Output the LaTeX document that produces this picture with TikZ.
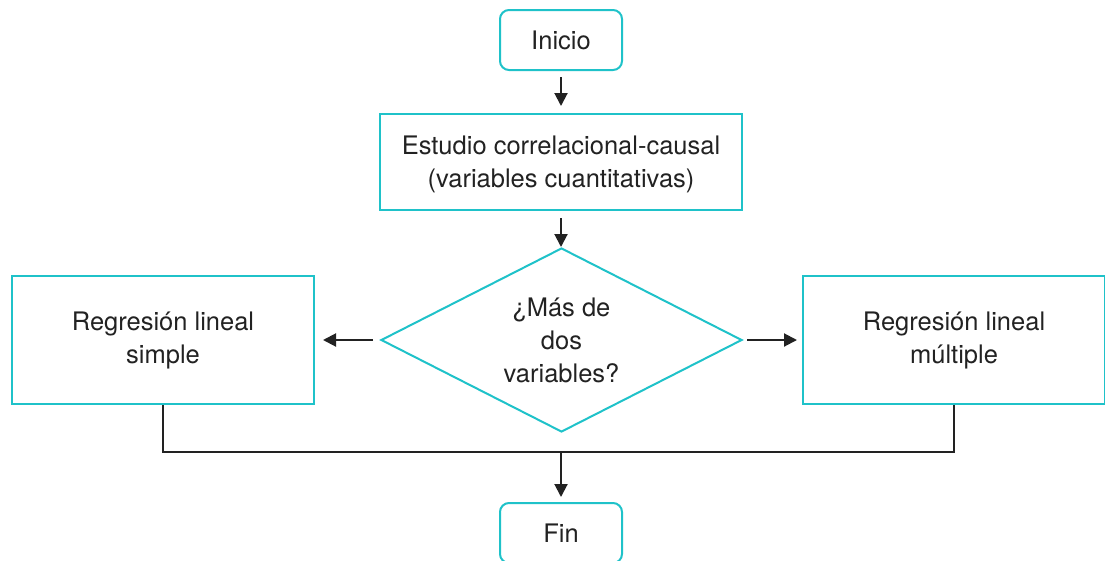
\documentclass[tikz,border=0pt]{standalone}
\usepackage{fontspec}
\setmainfont{TeX Gyre Heros}
\usetikzlibrary{arrows.meta,shapes.geometric}
\definecolor{tealc}{HTML}{1FC2C9}
\definecolor{inkc}{HTML}{222222}
\tikzset{
  box/.style={draw=tealc,line width=2pt,inner sep=0pt,align=center,text=inkc,font=\fontsize{25.5}{33}\selectfont},
  term/.style={box,rounded corners=9pt,minimum width=122pt,minimum height=60pt},
  proc/.style={box,minimum width=302pt,minimum height=128pt},
  flow/.style={draw=inkc,line width=2pt,-{Triangle[length=13pt,width=13pt]}},
  link/.style={draw=inkc,line width=2pt}
}
\begin{document}
\begin{tikzpicture}[x=1pt,y=-1pt]
\useasboundingbox (0,0) rectangle (1105,560);
\node[term] (ini) at (561,40) {Inicio};
\node[box,minimum width=362pt,minimum height=96pt] (est) at (561,162) {\\[-10pt]Estudio correlacional-causal\\(variables cuantitativas)};
\node[box,diamond,aspect=1.962,minimum width=361pt,minimum height=184pt] (dec) at (561.5,340) {¿Más de\\dos\\variables?};
\node[proc] (izq) at (163,340) {Regresión lineal\\simple};
\node[proc] (der) at (954,340) {Regresión lineal\\múltiple};
\node[term] (fin) at (561,533) {Fin};
\coordinate (a1) at (561,77);
\coordinate (a1e) at (561,106);
\coordinate (a2) at (561,218);
\coordinate (a2e) at (561,247);
\coordinate (l1) at (373,340);
\coordinate (l1e) at (323,340);
\coordinate (r1) at (747,340);
\coordinate (r1e) at (797,340);
\coordinate (jl) at (163,452);
\coordinate (jr) at (954,452);
\coordinate (jm) at (561,452);
\coordinate (jme) at (561,497);
\draw[flow] (a1) -- (a1e);
\draw[flow] (a2) -- (a2e);
\draw[flow] (l1) -- (l1e);
\draw[flow] (r1) -- (r1e);
\draw[link] (izq.south) -- (jl) -- (jr) -- (der.south);
\draw[flow] (jm) -- (jme);
\end{tikzpicture}
\end{document}
